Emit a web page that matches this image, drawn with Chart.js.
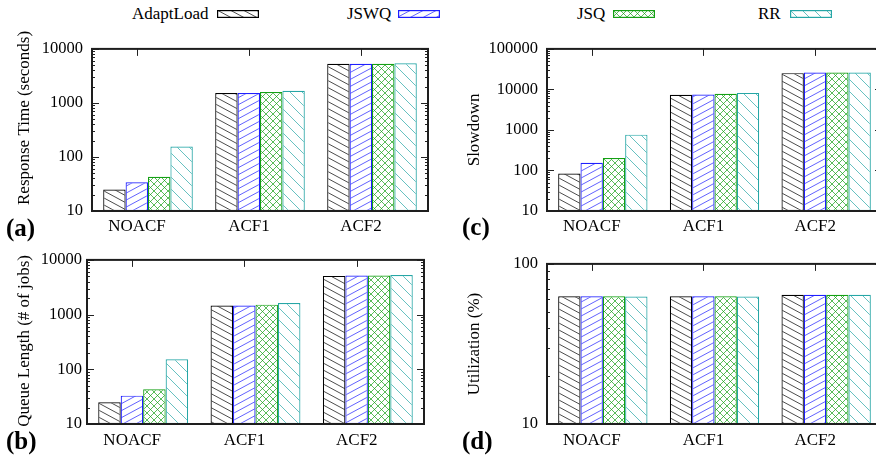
<!DOCTYPE html>
<html>
<head>
<meta charset="utf-8">
<script src="https://cdn.jsdelivr.net/npm/chart.js@4.4.1/dist/chart.umd.min.js"></script>
<style>
  html, body { margin: 0; background: #fff; }
  body { position: relative; width: 876px; height: 458px; overflow: hidden; }
  .panel { position: absolute; }
  .tag { position: absolute; font: bold 25px "Liberation Serif", serif; line-height: 25px; color: #000; }
  .key { position: absolute; top: 5px; font: 17px "Liberation Serif", serif; line-height: 17px; color: #000; }
  .swatch { position: absolute; top: 10px; }
</style>
</head>
<body>
<div id="legend"></div>
<canvas class="panel" id="rt" width="440" height="215" style="left:0;top:30px"></canvas>
<canvas class="panel" id="ql" width="440" height="213" style="left:0;top:245px"></canvas>
<canvas class="panel" id="sd" width="450" height="215" style="left:440px;top:30px"></canvas>
<canvas class="panel" id="ut" width="450" height="213" style="left:440px;top:245px"></canvas>
<div class="tag" style="left:6px;top:215px">(a)</div>
<div class="tag" style="left:6px;top:428px">(b)</div>
<div class="tag" style="left:462px;top:214px">(c)</div>
<div class="tag" style="left:462px;top:428px">(d)</div>
<script>
// categories and series
const categories = ["NOACF", "ACF1", "ACF2"];
const seriesNames = ["AdaptLoad", "JSWQ", "JSQ", "RR"];

// (a) response time, seconds
const rtAdapt = [25, 1530, 5290];
const rtJswq  = [34, 1530, 5290];
const rtJsq   = [43, 1590, 5300];
const rtRR    = [156, 1680, 5440];

// (b) queue length, # of jobs
const qlAdapt = [25, 1460, 5100];
const qlJswq  = [33, 1460, 5170];
const qlJsq   = [43, 1520, 5170];
const qlRR    = [153, 1630, 5310];

// (c) slowdown
const sdAdapt = [84, 7350, 25200];
const sdJswq  = [155, 7490, 26100];
const sdJsq   = [204, 7770, 26100];
const sdRR    = [766, 8210, 26100];

// (d) utilization, %
const utAdapt = [62.7, 62.7, 64.2];
const utJswq  = [62.7, 62.7, 64.2];
const utJsq   = [62.7, 62.7, 64.2];
const utRR    = [62.5, 62.5, 64.2];

// y tick labels (decades)
const rtTicks = [10, 100, 1000, 10000];
const qlTicks = [10, 100, 1000, 10000];
const sdTicks = [10, 100, 1000, 10000, 100000];
const utTicks = [10, 100];

Chart.defaults.font.family = '"Liberation Serif", serif';
Chart.defaults.color = "#000";

// hatch fills, one per series: colour, tile size, line segments in the tile
const STYLES = [
  { color: "#000000", w: 13, h: 7,  segs: [[0, 0, 13, 7]] },
  { color: "#1f1fff", w: 13, h: 7,  segs: [[0, 7, 13, 0]] },
  { color: "#14a014", w: 7,  h: 7,  segs: [[0, 0, 7, 7], [0, 7, 7, 0]] },
  { color: "#26a6a6", w: 12, h: 12, segs: [[0, 0, 12, 12]] }
];

function hatch(st) {
  const c = document.createElement("canvas");
  c.width = st.w; c.height = st.h;
  const g = c.getContext("2d");
  g.fillStyle = "#fff"; g.fillRect(0, 0, st.w, st.h);
  g.strokeStyle = st.color; g.globalAlpha = 0.7; g.lineWidth = 1;
  st.segs.forEach(([x1, y1, x2, y2]) => {
    [-st.h, 0, st.h].forEach(dy => {
      g.beginPath(); g.moveTo(x1, y1 + dy); g.lineTo(x2, y2 + dy); g.stroke();
    });
  });
  return g.createPattern(c, "repeat");
}
const FILLS = STYLES.map(hatch);

// gnuplot-ish frame: border, inward log ticks on both sides, top category ticks, y title
const frame = {
  id: "frame",
  afterDatasetsDraw(chart, args, o) {
    const { ctx, chartArea: a, scales: { x, y } } = chart;
    const seg = (x1, y1, x2, y2) => { ctx.beginPath(); ctx.moveTo(x1, y1); ctx.lineTo(x2, y2); ctx.stroke(); };
    ctx.save();
    ctx.strokeStyle = "#222"; ctx.lineWidth = 1;
    for (let e = Math.log10(y.min); e < Math.log10(y.max) + 0.5; e++) {
      for (let k = 1; k <= 9; k++) {
        const v = k * Math.pow(10, e);
        if (v > y.max * 1.0001) break;
        const py = Math.round(y.getPixelForValue(v)) + 0.5;
        const len = k === 1 ? 7 : 3;
        seg(a.left, py, a.left + len, py);
        seg(a.right - len, py, a.right, py);
      }
    }
    const shift = x.width / categories.length * 0.1;
    categories.forEach((c, i) => {
      const px = Math.round(x.getPixelForValue(i) - shift) + 0.5;
      seg(px, a.top, px, a.top + 7);
    });
    ctx.lineWidth = 2; ctx.strokeStyle = "#1e1e1e";
    ctx.strokeRect(a.left, a.top, a.right - a.left, a.bottom - a.top);
    // y axis title
    ctx.fillStyle = "#000";
    ctx.font = '17px "Liberation Serif", serif';
    ctx.textAlign = "center"; ctx.textBaseline = "middle";
    ctx.translate(o.titleX, (a.top + a.bottom) / 2 + (o.titleShift || 0));
    ctx.rotate(-Math.PI / 2);
    ctx.fillText(o.title, 0, 0);
    ctx.restore();
  }
};

function panel(id, series, ticks, box, title, titleX, titleShift, labelPad, xPad) {
  const el = document.getElementById(id);
  const W = el.width, H = el.height;
  return new Chart(el, {
    type: "bar",
    data: {
      labels: categories,
      datasets: series.map((d, i) => ({
        label: seriesNames[i], data: d,
        backgroundColor: FILLS[i], borderColor: STYLES[i].color,
        borderWidth: 1.2, borderSkipped: false,
        barPercentage: 1, categoryPercentage: 0.8
      }))
    },
    options: {
      responsive: false, animation: false,
      layout: { padding: { left: 0, top: box.top, right: W - box.right, bottom: 0 } },
      plugins: {
        legend: { display: false }, tooltip: { enabled: false },
        frame: { title, titleX, titleShift }
      },
      scales: {
        x: {
          grid: { display: false, drawTicks: false }, border: { display: false },
          ticks: { font: { size: 17 }, padding: xPad, labelOffset: -11, maxRotation: 0 },
          afterFit: s => { s.height = H - box.bottom; }
        },
        y: {
          type: "logarithmic", min: ticks[0], max: ticks[ticks.length - 1],
          grid: { display: false, drawTicks: false }, border: { display: false },
          ticks: { font: { size: 16.5 }, padding: labelPad, callback: v => String(v) },
          afterBuildTicks: s => { s.ticks = ticks.map(v => ({ value: v })); },
          afterFit: s => { s.width = box.left; }
        }
      }
    },
    plugins: [frame]
  });
}

panel("rt", [rtAdapt, rtJswq, rtJsq, rtRR], rtTicks, { left: 92, top: 14, right: 428, bottom: 181 },
  "Response Time (seconds)", 25, -12, 9, 5);
panel("ql", [qlAdapt, qlJswq, qlJsq, qlRR], qlTicks, { left: 87, top: 12, right: 424, bottom: 179 },
  "Queue Length (# of jobs)", 25, -1, 5, 6);
panel("sd", [sdAdapt, sdJswq, sdJsq, sdRR], sdTicks, { left: 107, top: 14, right: 442, bottom: 181 },
  "Slowdown", 35, 0, 9, 5);
panel("ut", [utAdapt, utJswq, utJsq, utRR], utTicks, { left: 107, top: 12, right: 442, bottom: 179 },
  "Utilization (%)", 35, 0, 9, 6);

// shared key across the top
const legendPos = [[132, 217], [347, 398], [577, 613], [758, 790]];
const legend = document.getElementById("legend");
seriesNames.forEach((name, i) => {
  const t = document.createElement("span");
  t.className = "key"; t.textContent = name; t.style.left = legendPos[i][0] + "px";
  legend.appendChild(t);
  const c = document.createElement("canvas");
  c.className = "swatch"; c.width = 42; c.height = 8; c.style.left = legendPos[i][1] + "px";
  const g = c.getContext("2d");
  g.fillStyle = FILLS[i]; g.fillRect(0, 0, 42, 8);
  g.strokeStyle = STYLES[i].color; g.lineWidth = 1.2; g.strokeRect(0.6, 0.6, 40.8, 6.8);
  legend.appendChild(c);
});
</script>
</body>
</html>
